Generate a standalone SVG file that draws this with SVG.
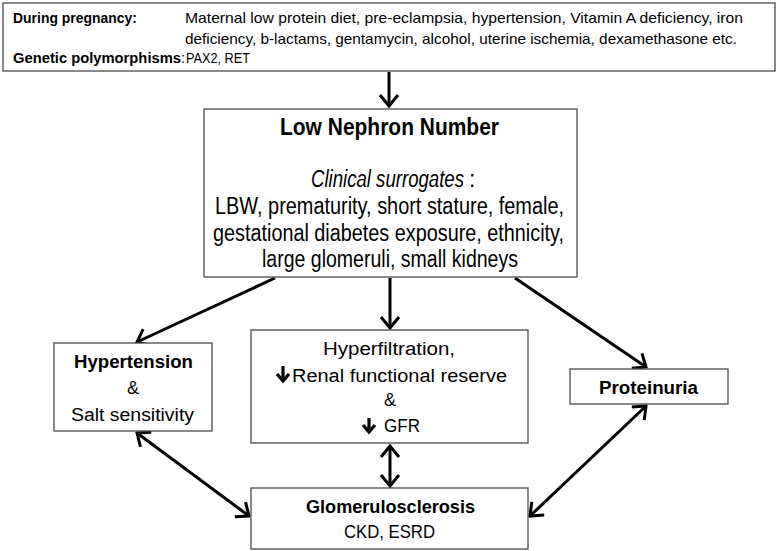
<svg xmlns="http://www.w3.org/2000/svg" width="781" height="551" viewBox="0 0 781 551">
<defs>
<style>
.box{fill:#fff;stroke:#4a4a4a;stroke-width:1.3}
text{font-family:"Liberation Sans",Arial,sans-serif;fill:#000}
.b{font-weight:bold}
.c{text-anchor:middle}
.t{font-size:14.5px}
.m{font-size:23px}
.s{font-size:18px}
.conn{stroke:#000;stroke-width:3;fill:none}
.dn{stroke:#000;stroke-width:3.2;fill:none;stroke-linecap:butt}
</style>
<marker id="ah" viewBox="-13 -11 15 22" refX="0" refY="0" markerWidth="15" markerHeight="22" markerUnits="userSpaceOnUse" orient="auto-start-reverse">
<path d="M-11,-9 L0,0 L-11,9" fill="none" stroke="#000" stroke-width="3" stroke-linejoin="miter"/>
</marker>
</defs>
<rect width="781" height="551" fill="#fff"/>

<g id="connectors">
<line class="conn" x1="389" y1="72" x2="389" y2="106" marker-end="url(#ah)"/>
<line class="conn" x1="275" y1="278" x2="137" y2="342" marker-end="url(#ah)"/>
<line class="conn" x1="390" y1="278" x2="390" y2="328" marker-end="url(#ah)"/>
<line class="conn" x1="515" y1="278" x2="646" y2="367" marker-end="url(#ah)"/>
<line class="conn" x1="390" y1="446" x2="390" y2="486" marker-start="url(#ah)" marker-end="url(#ah)"/>
<line class="conn" x1="137" y1="433" x2="249" y2="516" marker-start="url(#ah)" marker-end="url(#ah)"/>
<line class="conn" x1="646" y1="406" x2="530" y2="516" marker-start="url(#ah)" marker-end="url(#ah)"/>
</g>

<g id="factors">
<rect class="box" x="3" y="3" width="772" height="68"/>
<text class="t b" x="13" y="23" textLength="124" lengthAdjust="spacingAndGlyphs">During pregnancy:</text>
<text class="t" x="185" y="23" textLength="558" lengthAdjust="spacingAndGlyphs">Maternal low protein diet, pre-eclampsia, hypertension, Vitamin A deficiency, iron</text>
<text class="t" x="185" y="44" textLength="552" lengthAdjust="spacingAndGlyphs">deficiency, b-lactams, gentamycin, alcohol, uterine ischemia, dexamethasone etc.</text>
<text class="t b" x="13" y="63" textLength="168" lengthAdjust="spacingAndGlyphs">Genetic polymorphisms</text>
<text class="t" x="181" y="63">:</text>
<text class="t" x="186" y="63" textLength="64" lengthAdjust="spacingAndGlyphs">PAX2, RET</text>
</g>

<g id="low-nephron-number">
<rect class="box" x="204" y="109" width="373" height="168"/>
<text class="m b" x="280" y="135" textLength="219" lengthAdjust="spacingAndGlyphs">Low Nephron Number</text>
<text class="m" x="311" y="187" font-style="italic" textLength="153" lengthAdjust="spacingAndGlyphs">Clinical surrogates</text>
<text class="m" x="469" y="187">:</text>
<text class="m" x="215" y="214" textLength="349" lengthAdjust="spacingAndGlyphs">LBW, prematurity, short stature, female,</text>
<text class="m" x="213" y="241" textLength="351" lengthAdjust="spacingAndGlyphs">gestational diabetes exposure, ethnicity,</text>
<text class="m" x="262" y="267" textLength="256" lengthAdjust="spacingAndGlyphs">large glomeruli, small kidneys</text>
</g>

<g id="hypertension">
<rect class="box" x="54" y="343" width="158" height="88"/>
<text class="s b" x="74" y="368" textLength="119" lengthAdjust="spacingAndGlyphs">Hypertension</text>
<text class="s c" x="133" y="394">&amp;</text>
<text class="s" x="71" y="421" textLength="123" lengthAdjust="spacingAndGlyphs">Salt sensitivity</text>
</g>

<g id="hyperfiltration">
<rect class="box" x="251" y="330" width="277" height="113"/>
<text class="s" x="323" y="355" textLength="132" lengthAdjust="spacingAndGlyphs">Hyperfiltration,</text>
<path class="dn" d="M283,366 V380 M277,374 L283,381 L289,374"/>
<text class="s" x="292" y="382" textLength="215" lengthAdjust="spacingAndGlyphs">Renal functional reserve</text>
<text class="s c" x="390" y="406">&amp;</text>
<path class="dn" d="M369,418 V431 M363,425 L369,432 L375,425"/>
<text class="s" x="384" y="432" textLength="36" lengthAdjust="spacingAndGlyphs">GFR</text>
</g>

<g id="proteinuria">
<rect class="box" x="570" y="369" width="158" height="35"/>
<text class="s b" x="599" y="394" textLength="99" lengthAdjust="spacingAndGlyphs">Proteinuria</text>
</g>

<g id="glomerulosclerosis">
<rect class="box" x="251" y="488" width="277" height="61"/>
<text class="s b" x="306" y="513" textLength="169" lengthAdjust="spacingAndGlyphs">Glomerulosclerosis</text>
<text class="s" x="344" y="538" textLength="91" lengthAdjust="spacingAndGlyphs">CKD, ESRD</text>
</g>
</svg>
